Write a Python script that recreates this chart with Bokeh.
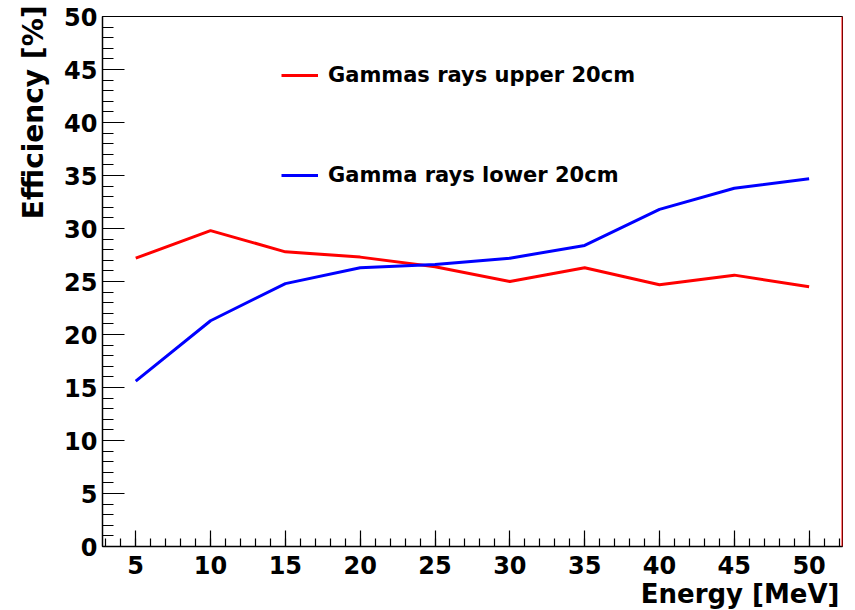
import math
from bokeh.plotting import figure
from bokeh.models import Range1d, SingleIntervalTicker, Span, Title, Legend, LegendItem, ColumnDataSource
from bokeh.embed import file_html
from bokeh.resources import INLINE

energy = [5, 10, 15, 20, 25, 30, 35, 40, 45, 50]
upper_eff = [27.2, 29.8, 27.8, 27.3, 26.4, 25.0, 26.3, 24.7, 25.6, 24.5]
lower_eff = [15.6, 21.3, 24.8, 26.3, 26.6, 27.2, 28.4, 31.8, 33.8, 34.7]
upper_label = "Gammas rays upper 20cm"
lower_label = "Gamma rays lower 20cm"
x_title = "Energy [MeV]"
y_title = "Efficiency [%]"

FONT = "DejaVu Sans"

p = figure(width=855, height=610, output_backend="svg", toolbar_location=None,
           x_range=Range1d(2.78, 52.23), y_range=Range1d(0, 50),
           min_border_left=102, min_border_right=13, min_border_top=16, min_border_bottom=64)
p.frame_width = 740
p.frame_height = 530
p.grid.visible = False
p.background_fill_color = "white"
p.border_fill_color = "white"
p.outline_line_color = "black"
p.outline_line_width = 1

src = ColumnDataSource(dict(x=energy, up=upper_eff, lo=lower_eff))
r_up = p.line("x", "up", source=src, line_color="#ff0000", line_width=3)
r_lo = p.line("x", "lo", source=src, line_color="#0000ff", line_width=3)

for ax, maj, mnr in ((p.xaxis[0], 16, 8), (p.yaxis[0], 22, 11)):
    ax.ticker = SingleIntervalTicker(interval=5, num_minor_ticks=5)
    ax.major_tick_out = 0
    ax.minor_tick_out = 0
    ax.major_tick_in = maj
    ax.minor_tick_in = mnr
    ax.axis_line_color = "black"
    ax.axis_line_width = 1.5
    ax.major_tick_line_width = 1.2
    ax.minor_tick_line_width = 1.2
    ax.major_label_text_font = FONT
    ax.major_label_text_font_style = "bold"
    ax.major_label_text_font_size = "24px"
    ax.major_label_text_color = "black"
p.xaxis[0].major_label_standoff = 9
p.yaxis[0].major_label_standoff = 5

p.add_layout(Span(location=52.23, dimension="height", line_color="#ff0000", line_width=2))

p.add_layout(Title(text=x_title, align="right", text_font=FONT, text_font_style="bold",
                   text_font_size="26px", text_color="black", offset=3, standoff=0), "below")
p.add_layout(Title(text=y_title, align="right", text_font=FONT, text_font_style="bold",
                   text_font_size="28px", text_color="black", offset=-11, standoff=24), "left")

legend = Legend(items=[LegendItem(label=upper_label, renderers=[r_up]),
                       LegendItem(label=lower_label, renderers=[r_lo])],
                location=(179, 359), orientation="vertical",
                glyph_width=37, glyph_height=24, label_height=24, spacing=76,
                label_standoff=10, padding=0, margin=0,
                border_line_alpha=0, background_fill_alpha=0,
                label_text_font=FONT, label_text_font_style="bold",
                label_text_font_size="21px", label_text_color="black")
p.add_layout(legend)

open("out.html", "w").write(file_html(p, INLINE))
